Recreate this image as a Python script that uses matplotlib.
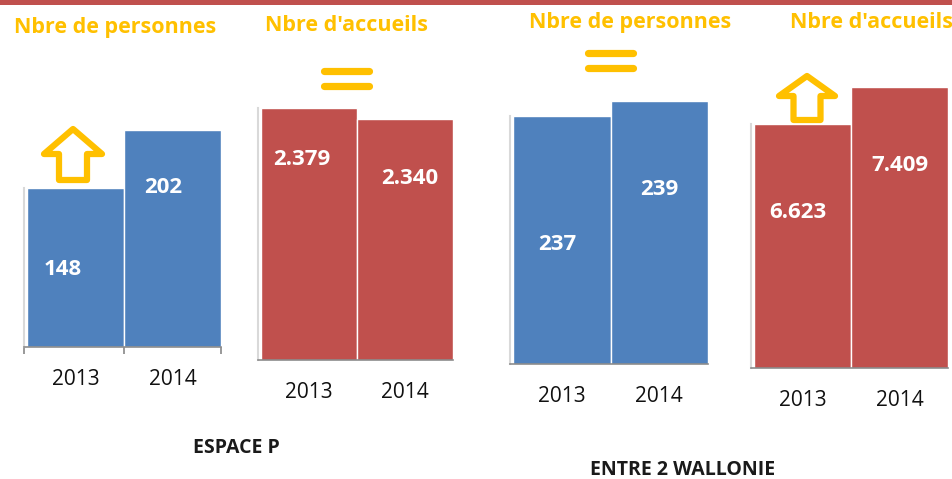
import matplotlib
matplotlib.use("Agg")
import matplotlib.pyplot as plt
from matplotlib.patches import Rectangle, Polygon

plt.rcParams['font.family'] = ['Open Sans', 'DejaVu Sans']

years = ["2013", "2014"]
espace_personnes = [148, 202]
espace_accueils = [2379, 2340]
entre_personnes = [237, 239]
entre_accueils = [6623, 7409]

blue = "#4F81BD"
red = "#C0504D"
gold = "#FFC000"

W, H = 953, 479
fig = plt.figure(figsize=(W / 100, H / 100), dpi=100)


def px_axes(left, right, bottom, top):
    # rectangle in pixel coords (y from top) -> figure fraction
    return fig.add_axes([left / W, 1 - bottom / H, (right - left) / W, (bottom - top) / H])


def fmt(v):
    return f"{v:,}".replace(",", ".")


# (values, colour, axes box px, y limits, label y (axes frac), label x shift (bar widths), ticks?)
panels = [
    (espace_personnes, blue, (24, 221, 347, 130), (0, 202), [0.355, 0.733], [-0.13, -0.1], True),
    (espace_accueils, red, (258, 453, 360, 108), (1486, 2379), [0.794, 0.722], [-0.07, 0.05], False),
    (entre_personnes, blue, (510, 708, 364, 101), (204, 239), [0.456, 0.662], [-0.05, 0], False),
    (entre_accueils, red, (751, 948, 368, 87), (1440, 7409), [0.555, 0.722], [-0.05, 0], False),
]

for vals, col, box, ylim, lab_y, lab_dx, ticks in panels:
    ax = px_axes(*box)
    x0 = 3 / 97
    ax.bar([0.5 + x0, 1.5 + x0], vals, width=1.0, color=col, edgecolor="white", linewidth=1.0)
    ax.set_xlim(0, 2 + x0)
    ax.set_ylim(*ylim)
    ax.set_yticks([])
    ax.set_xticks([0.5 + x0, 1.5 + x0])
    ax.set_xticklabels(years, fontsize=15, color="#111111")
    ax.tick_params(axis="x", length=0, pad=16)
    if ticks:
        ax.set_xticks([0, 1 + x0, 2 + x0], minor=True)
        ax.tick_params(axis="x", which="minor", length=5, color="#888888", width=1.2)
    for s in ["top", "right"]:
        ax.spines[s].set_visible(False)
    ax.spines["left"].set_color("#D9D9D9")
    ax.spines["left"].set_linewidth(1.5)
    ax.spines["left"].set_bounds(ylim[0], vals[0])
    ax.spines["bottom"].set_color("#8C8C8C")
    ax.spines["bottom"].set_linewidth(1.2)
    for i, v in enumerate(vals):
        ax.text(0.5 + x0 + i + lab_dx[i], ylim[0] + lab_y[i] * (ylim[1] - ylim[0]), fmt(v),
                ha="center", va="center", color="white", fontsize=16, fontweight="bold")

# overlay for titles, icons and border
ov = fig.add_axes([0, 0, 1, 1], zorder=10)
ov.set_xlim(0, W)
ov.set_ylim(H, 0)
ov.axis("off")
ov.patch.set_alpha(0)

ov.add_patch(Rectangle((0, 0), W, 4.5, color=red, lw=0))

titles = [("Nbre de personnes", 115, 27), ("Nbre d'accueils", 347, 25),
          ("Nbre de personnes", 630, 22), ("Nbre d'accueils", 872, 22)]
for t, x, y in titles:
    ov.text(x, y, t, color=gold, fontsize=15.5, fontweight="bold", ha="center", va="center")

ov.text(236, 448, "ESPACE P", color="#1a1a1a", fontsize=14, fontweight="bold", ha="center", va="center")
ov.text(683, 470, "ENTRE 2 WALLONIE", color="#1a1a1a", fontsize=14, fontweight="bold", ha="center", va="center")


def up_arrow(cx, top, bottom, hw, sw, base):
    pts = [(cx, top), (cx + hw, base), (cx + sw, base), (cx + sw, bottom),
           (cx - sw, bottom), (cx - sw, base), (cx - hw, base)]
    ov.add_patch(Polygon(pts, closed=True, fill=False, edgecolor=gold, lw=4.5, joinstyle="round"))


up_arrow(73, 129, 180, 29, 14, 154)
up_arrow(807, 76, 120, 28, 13.5, 96)


def equal_sign(x1, x2, y1, y2):
    for y in (y1, y2):
        ov.plot([x1, x2], [y, y], color=gold, lw=5.2, solid_capstyle="round")


equal_sign(324, 369, 70.5, 86)
equal_sign(588, 633, 52.5, 68)

fig.savefig("out.png", dpi=100)
